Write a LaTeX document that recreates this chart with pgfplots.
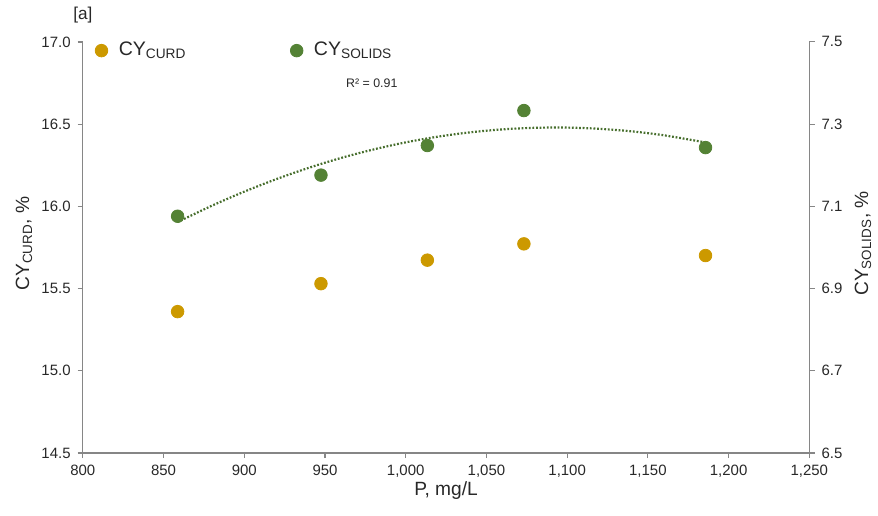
\documentclass[border=0pt]{standalone}
\usepackage{fontspec}
\setmainfont{Liberation Sans}
\usepackage{pgfplots}
\pgfplotsset{compat=1.18}
\definecolor{gold}{RGB}{204,153,0}
\definecolor{grn}{RGB}{84,130,53}
\definecolor{axgray}{RGB}{134,134,134}
\definecolor{txt}{RGB}{40,40,40}
\begin{document}
\begin{tikzpicture}
\pgfplotsset{
  common/.style={
    scale only axis, width=364pt, height=206pt,
    xmin=800, xmax=1250,
    font=\fontsize{7.5}{9}\selectfont,
    /pgf/number format/assume math mode=true,
    tick style={axgray, line width=0.6pt},
    major tick length=2.6pt,
    tick align=outside,
    axis line style={axgray, line width=0.6pt},
    ticklabel style={txt},
    label style={txt, font=\fontsize{9.6}{11}\selectfont},
    clip=false,
  }
}
\begin{axis}[common, name=ax,
  axis x line*=bottom, axis y line*=left,
  ymin=14.5, ymax=17.0, ytick={14.5,15.0,15.5,16.0,16.5,17.0},
  yticklabel style={/pgf/number format/.cd, fixed, fixed zerofill, precision=1},
  xtick={800,850,900,950,1000,1050,1100,1150,1200,1250},
  xticklabel style={/pgf/number format/.cd, 1000 sep={,}},
  xlabel={P, mg/L},
  xlabel style={at={(axis description cs:0.5,-0.09)}, anchor=center},
  ylabel={CY\textsubscript{CURD}, \%},
  ylabel style={at={(axis description cs:-0.081,0.51)}, anchor=center},
  legend columns=2,
  legend style={at={(axis description cs:0,1)}, anchor=north west, xshift=6pt, yshift=2pt,
    draw=none, fill=none, inner sep=0pt, font=\fontsize{9.8}{11}\selectfont, text=txt,
    /tikz/every odd column/.style={column sep=3.5pt}},
]
\addplot[only marks, mark=*, mark size=3.15pt, color=gold] coordinates {
  (858.7,15.36) (947.5,15.53) (1013.4,15.673) (1073.2,15.772) (1185.7,15.701)
};
\addlegendentry{\makebox[84pt][l]{CY\textsubscript{CURD}}}
\addlegendimage{only marks, mark=*, mark size=3.15pt, color=grn}
\addlegendentry{CY\textsubscript{SOLIDS}}
\node[txt, font=\fontsize{6.2}{7}\selectfont] at (axis cs:979,16.75) {R² = 0.91};
\node[txt, font=\fontsize{8.6}{10}\selectfont] at (axis description cs:0.0,1.066) {[a]};
\end{axis}
\begin{axis}[common,
  axis x line=none, axis y line*=right,
  ymin=6.5, ymax=7.5, ytick={6.5,6.7,6.9,7.1,7.3,7.5},
  yticklabel style={/pgf/number format/.cd, fixed, fixed zerofill, precision=1},
  ylabel={CY\textsubscript{SOLIDS}, \%},
  ylabel style={at={(axis description cs:1.074,0.51)}, anchor=center},
]
\addplot[grn!85!black, line width=1.1pt, dash pattern=on 0.9pt off 0.9pt, smooth] coordinates {
  (858.7,7.0618) (880,7.10173) (900,7.13578) (920,7.16647) (940,7.1938) (960,7.21778)
  (980,7.23839) (1000,7.25565) (1020,7.26955) (1040,7.28009) (1060,7.28727)
  (1080,7.29109) (1100,7.29156) (1120,7.28867) (1140,7.28241) (1160,7.2728) (1185.7,7.2555)
};
\addplot[only marks, mark=*, mark size=3.15pt, color=grn] coordinates {
  (858.7,7.076) (947.5,7.176) (1013.4,7.248) (1073.2,7.333) (1185.7,7.243)
};
\end{axis}
\path ([xshift=-41.5pt,yshift=-31.5pt]ax.south west) rectangle ([xshift=33.5pt,yshift=21pt]ax.north east);
\end{tikzpicture}
\end{document}
